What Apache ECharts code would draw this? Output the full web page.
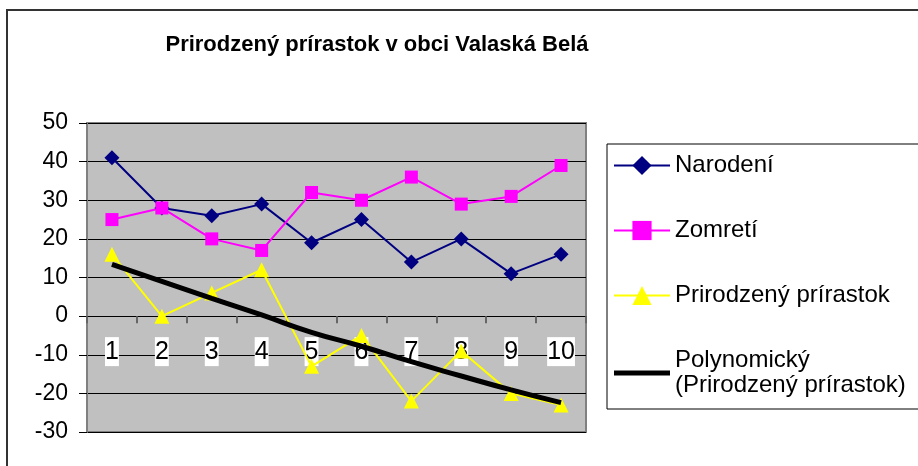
<!DOCTYPE html>
<html>
<head>
<meta charset="utf-8">
<script src="https://cdn.jsdelivr.net/npm/echarts@6/dist/echarts.min.js"></script>
<style>
  html, body { margin: 0; padding: 0; background: #fff; }
  #chart { width: 918px; height: 466px; }
</style>
</head>
<body>
<div id="chart"></div>
<script>
// roky 1..10
const categories = ['1', '2', '3', '4', '5', '6', '7', '8', '9', '10'];
const narodeni = [41, 28, 26, 29, 19, 25, 14, 20, 11, 16];
const zomreti = [25, 28, 20, 17, 32, 30, 36, 29, 31, 39];
const prirastok = [16, 0, 6, 12, -13, -5, -22, -9, -20, -23];
// odčítané z trendovej čiary v obrázku
const trend = [13.4, 9, 4.6, 0.3, -4.2, -7.8, -11.8, -15.5, -19.1, -22.4];

const yMin = -30;
const yMax = 50;

const font = '"Liberation Sans", Arial, sans-serif';

const gridTop = 123;
const gridHeight = 309;
// os X leží na nule, posun od spodku grafu
const zeroOffset = -gridHeight * (0 - yMin) / (yMax - yMin);

const chart = echarts.init(document.getElementById('chart'));

const option = {
    animation: false,
    backgroundColor: '#fff',
    title: {
        text: 'Prirodzený prírastok v obci Valaská Belá',
        left: 372,
        textAlign: 'center',
        top: 29,
        textStyle: { fontFamily: font, fontSize: 22, fontWeight: 'bold', color: '#000' }
    },
    graphic: [{
        type: 'rect',
        shape: { x: 7, y: 10, width: 1000, height: 1000 },
        style: { fill: 'none', stroke: '#333', lineWidth: 2 },
        silent: true,
        z: -1
    }],
    legend: {
        orient: 'vertical',
        left: 607,
        top: 144,
        padding: [9, 14, 11, 6],
        itemGap: 40,
        itemWidth: 56,
        itemHeight: 24,
        selectedMode: false,
        borderColor: '#000',
        borderWidth: 1,
        textStyle: { fontFamily: font, fontSize: 24, lineHeight: 25, color: '#000' },
        data: [
            'Narodení',
            'Zomretí',
            'Prirodzený prírastok',
            { name: 'Polynomický\n(Prirodzený prírastok)', icon: 'path://M0,0H56V5H0Z' }
        ]
    },
    grid: {
        left: 87,
        top: gridTop,
        width: 499,
        height: gridHeight,
        show: true,
        containLabel: false,
        outerBoundsMode: 'none',
        backgroundColor: '#c0c0c0',
        borderColor: '#808080',
        borderWidth: 2
    },
    xAxis: {
        type: 'category',
        data: categories,
        boundaryGap: true,
        offset: zeroOffset,
        axisLine: { onZero: false, lineStyle: { color: '#000', width: 1 } },
        axisTick: { show: true, length: 7, inside: false, lineStyle: { color: '#666', width: 2 } },
        axisLabel: {
            margin: 21,
            fontFamily: font,
            fontSize: 25,
            lineHeight: 29,
            color: '#000',
            backgroundColor: '#fff',
            padding: [0, 0, 0, 0]
        },
        splitLine: { show: false }
    },
    yAxis: {
        type: 'value',
        min: yMin,
        max: yMax,
        interval: 10,
        axisLine: { show: true, lineStyle: { color: '#808080', width: 2 } },
        axisTick: { show: true, length: 8, lineStyle: { color: '#000', width: 1 } },
        axisLabel: { margin: 19, fontFamily: font, fontSize: 23, color: '#000' },
        splitLine: { show: true, lineStyle: { color: '#000', width: 1 } }
    },
    series: [
        {
            name: 'Narodení',
            type: 'line',
            data: narodeni,
            symbol: 'diamond',
            symbolSize: 15,
            color: '#000080',
            lineStyle: { width: 2, color: '#000080' },
            itemStyle: { color: '#000080' }
        },
        {
            name: 'Zomretí',
            type: 'line',
            data: zomreti,
            symbol: 'rect',
            symbolSize: 13,
            color: '#ff00ff',
            lineStyle: { width: 2, color: '#ff00ff' },
            itemStyle: { color: '#ff00ff' }
        },
        {
            name: 'Prirodzený prírastok',
            type: 'line',
            data: prirastok,
            symbol: 'triangle',
            symbolSize: 15,
            color: '#ffff00',
            lineStyle: { width: 2, color: '#ffff00' },
            itemStyle: { color: '#ffff00' }
        },
        {
            name: 'Polynomický\n(Prirodzený prírastok)',
            type: 'line',
            data: trend,
            symbol: 'none',
            smooth: true,
            color: '#000',
            lineStyle: { width: 5, color: '#000' },
            z: 5
        }
    ]
};

chart.setOption(option);
</script>
</body>
</html>
